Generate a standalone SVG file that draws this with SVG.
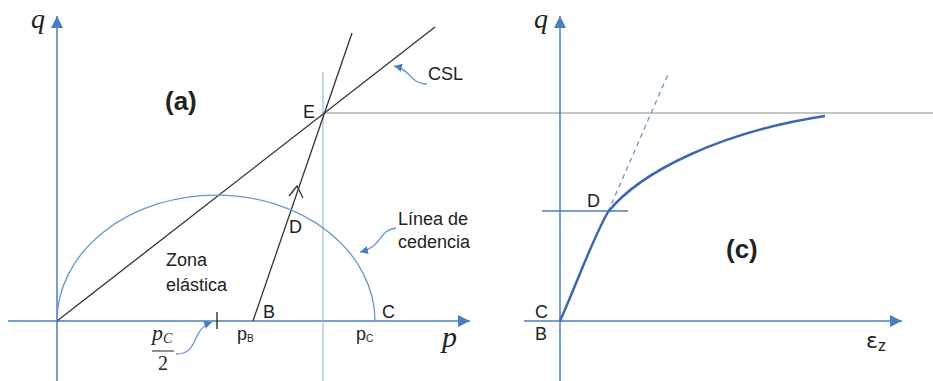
<svg xmlns="http://www.w3.org/2000/svg" width="933" height="381" viewBox="0 0 933 381">
<defs>
<marker id="ax" markerWidth="14" markerHeight="14" refX="12" refY="6" orient="auto" markerUnits="userSpaceOnUse"><path d="M0,0 L12,6 L0,12 Z" fill="#4a7ebf"/></marker>
<marker id="pt" markerWidth="10" markerHeight="10" refX="8" refY="4" orient="auto" markerUnits="userSpaceOnUse"><path d="M0,0 L8,4 L0,8 Z" fill="#4a7ebf"/></marker>
<style>
.axis{stroke:#4a7ebf;stroke-width:1.5;fill:none}
.thin{stroke:#9db8e0;stroke-width:1.2;fill:none}
.blk{stroke:#333;stroke-width:1.3;fill:none}
.gry{stroke:#b0b0b0;stroke-width:1.3;fill:none}
.yield{stroke:#6a96d0;stroke-width:1.3;fill:none}
.ptr{stroke:#6a96d0;stroke-width:1.3;fill:none}
.t{font-family:"Liberation Sans",Arial,sans-serif;font-size:18px;fill:#222}
.b{font-family:"Liberation Sans",Arial,sans-serif;font-size:26px;font-weight:bold;fill:#222}
.m{font-family:"Liberation Serif","DejaVu Serif",serif;font-style:italic;fill:#222}
</style>
</defs>
<g id="connectors">
<line class="axis" x1="57" y1="381" x2="57" y2="16" marker-end="url(#ax)"/>
<line class="axis" x1="8" y1="321" x2="470" y2="321" marker-end="url(#ax)"/>
<line class="thin" x1="323" y1="72" x2="323" y2="381"/>
<line class="gry" x1="323" y1="113" x2="933" y2="113"/>
<line class="blk" x1="57" y1="321" x2="435" y2="27"/>
<line class="blk" x1="253" y1="321" x2="352" y2="33"/>
<path class="blk" d="M289,196 L297,186 L303,198"/>
<path class="yield" d="M57,321 A159,126 0 0 1 375,321"/>
<line stroke="#222" stroke-width="1.3" x1="217" y1="312" x2="217" y2="329"/>
<path class="ptr" d="M427,84 C410,84 412,70 394,66" marker-end="url(#pt)"/>
<path class="ptr" d="M396,228 C378,230 384,246 360,252" marker-end="url(#pt)"/>
<path class="ptr" d="M176,354 C200,354 190,330 212,322" marker-end="url(#pt)"/>
<line class="axis" x1="560" y1="381" x2="560" y2="16" marker-end="url(#ax)"/>
<line class="axis" x1="524" y1="321" x2="902" y2="321" marker-end="url(#ax)"/>
<line class="axis" x1="542" y1="211" x2="628" y2="211"/>
<line stroke="#6a96d0" stroke-width="1.3" stroke-dasharray="5,4" x1="608" y1="212" x2="669" y2="72"/>
<path d="M560,321 C577,283 592,240 608,212 C640,172 720,132 825,116" fill="none" stroke="#3d67ad" stroke-width="2.5"/>
</g>
<g id="labels">
<text class="m" x="31" y="28" font-size="28">q</text>
<text class="m" x="534" y="28" font-size="28">q</text>
<text class="m" x="442" y="347" font-size="30">p</text>
<text class="b" x="165" y="110">(a)</text>
<text class="b" x="726" y="258">(c)</text>
<text class="t" x="303" y="118" font-size="16">E</text>
<text class="t" x="428" y="80">CSL</text>
<text class="t" x="398" y="225">Línea de</text>
<text class="t" x="398" y="248">cedencia</text>
<text class="t" x="289" y="233">D</text>
<text class="t" x="166" y="266">Zona</text>
<text class="t" x="166" y="291">elástica</text>
<text class="t" x="263" y="318">B</text>
<text class="t" x="382" y="318">C</text>
<text class="t" x="237" y="340" font-size="17">p<tspan font-size="10" dy="2">B</tspan></text>
<text class="t" x="356" y="340" font-size="17">p<tspan font-size="10" dy="2">C</tspan></text>
<text class="m" x="152" y="340" font-size="22">p<tspan font-size="14" dy="3">C</tspan></text>
<line stroke="#222" stroke-width="1" x1="152" y1="351" x2="174" y2="351"/>
<text x="158" y="370" font-family="'Liberation Serif','DejaVu Serif',serif" font-size="20" fill="#222">2</text>
<text class="t" x="587" y="207">D</text>
<text class="t" x="535" y="318">C</text>
<text class="t" x="535" y="340">B</text>
<text x="866" y="348" font-family="'DejaVu Sans',sans-serif" font-size="22" fill="#222">ε<tspan font-family="'Liberation Sans',sans-serif" font-size="16" dy="3">z</tspan></text>
</g>
</svg>
